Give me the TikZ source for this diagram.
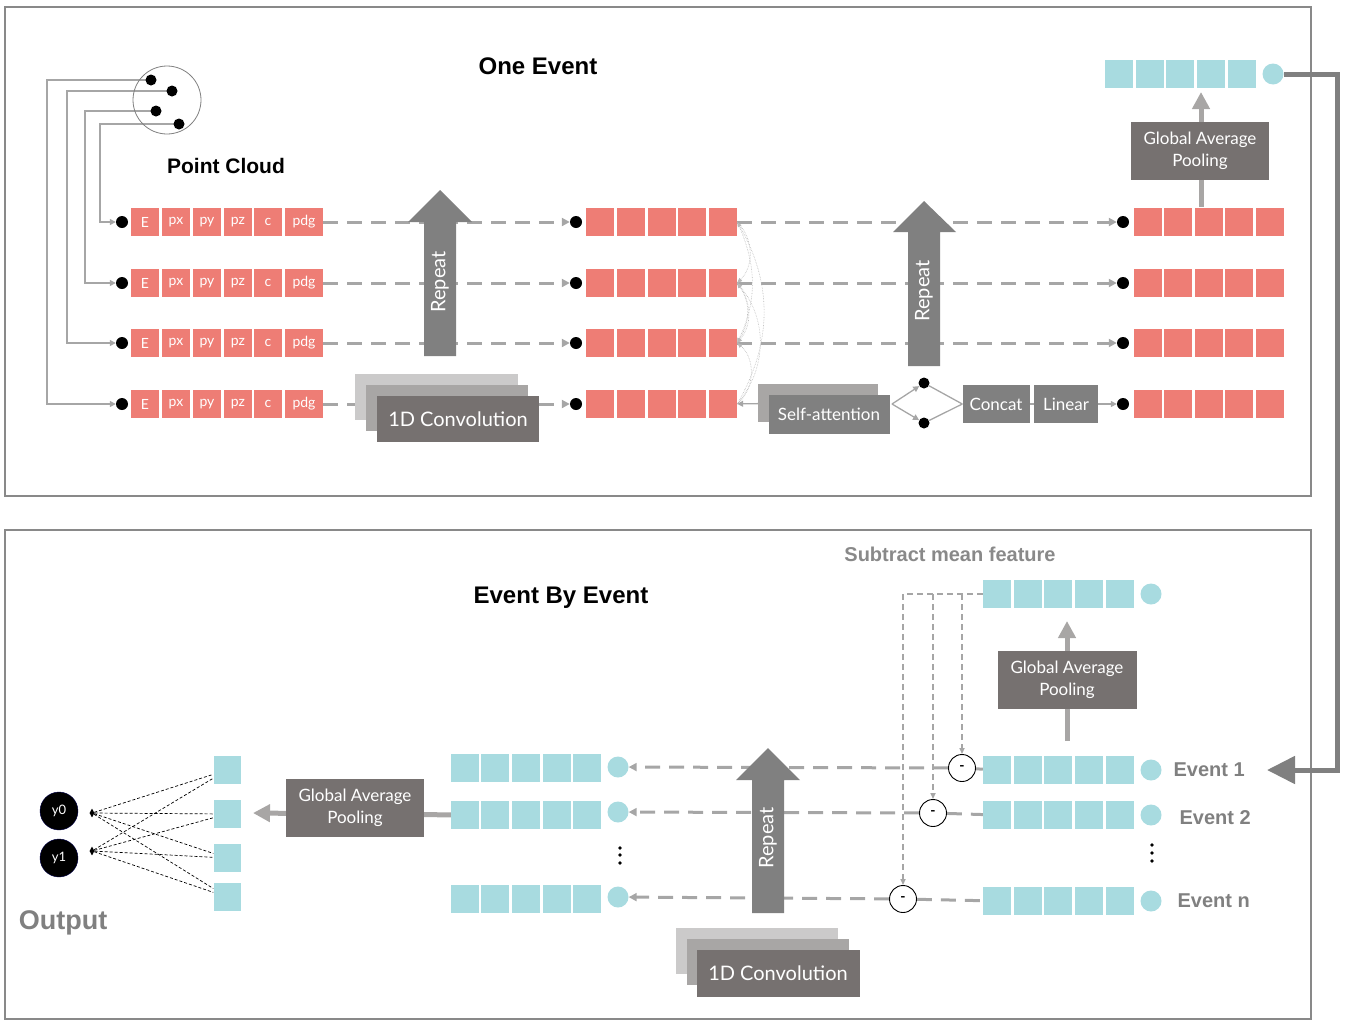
\documentclass[tikz,border=0pt]{standalone}
\usepackage{fontspec}
\setmainfont{Lato}
\newfontfamily\headfont{Liberation Sans}
\usetikzlibrary{arrows.meta,shapes.geometric}
\definecolor{cellred}{RGB}{238,125,117}
\definecolor{cellblue}{RGB}{168,219,224}
\definecolor{boxdark}{RGB}{118,113,112}
\definecolor{boxgrey}{RGB}{128,128,128}
\definecolor{boxmid}{RGB}{168,166,165}
\definecolor{boxlight}{RGB}{203,202,202}
\definecolor{linegrey}{RGB}{166,166,166}
\definecolor{framegrey}{RGB}{137,137,137}
\pgfdeclarelayer{edgelayer}
\pgfdeclarelayer{nodelayer}
\pgfsetlayers{edgelayer,nodelayer,main}
\tikzstyle{none}=[inner sep=0pt]
\tikzstyle{panel}=[draw=framegrey, line width=2pt]
\tikzstyle{pcircle}=[circle, draw=boxgrey, line width=0.8pt, minimum size=68pt, inner sep=0pt]
\tikzstyle{pcdot}=[circle, fill=black, minimum size=11pt, inner sep=0pt]
\tikzstyle{dot}=[circle, fill=black, minimum size=12pt, inner sep=0pt]
\tikzstyle{vdot}=[circle, fill=black, minimum size=3.6pt, inner sep=0pt]
\tikzstyle{redcell}=[fill=cellred, minimum width=28pt, minimum height=28pt, inner sep=0pt, text=white, font=\fontsize{14}{14}\selectfont]
\tikzstyle{widecell}=[redcell, minimum width=38pt]
\tikzstyle{bluecell}=[fill=cellblue, minimum width=28pt, minimum height=28pt, inner sep=0pt]
\tikzstyle{bluedot}=[circle, fill=cellblue, minimum size=21pt, inner sep=0pt]
\tikzstyle{darkbox}=[fill=boxdark, text=white, inner sep=0pt, align=center]
\tikzstyle{greybox}=[fill=boxgrey, text=white, inner sep=0pt, align=center]
\tikzstyle{midbox}=[fill=boxmid, inner sep=0pt]
\tikzstyle{lightbox}=[fill=boxlight, inner sep=0pt]
\tikzstyle{boxtext}=[font=\fontsize{17}{22}\selectfont]
\tikzstyle{heading}=[font=\headfont\bfseries\fontsize{24}{24}\selectfont]
\tikzstyle{eventlabel}=[text=boxgrey, anchor=west, font=\headfont\bfseries\fontsize{20}{20}\selectfont]
\tikzstyle{minus}=[circle, draw=black, fill=white, line width=0.9pt, minimum size=27pt, inner sep=0pt, font=\bfseries\fontsize{14}{14}\selectfont]
\tikzstyle{outnode}=[circle, fill=black, draw=black!70!blue, minimum size=38pt, inner sep=0pt, text=white, font=\fontsize{13}{13}\selectfont]
\tikzstyle{fcjoint}=[diamond, fill=black, minimum width=5pt, minimum height=9pt, inner sep=0pt]
\tikzstyle{feed}=[draw=linegrey, line width=1.3pt, -{Triangle[length=6pt,width=6pt]}]
\tikzstyle{flow}=[draw=linegrey, line width=3pt, dash pattern=on 15pt off 9pt, -{Triangle[length=8pt,width=8pt]}]
\tikzstyle{rowline}=[draw=linegrey, line width=3pt, dash pattern=on 15pt off 9pt]
\tikzstyle{attn}=[draw=linegrey!80, line width=0.6pt, densely dotted, -{Triangle[length=5pt,width=4pt]}]
\tikzstyle{meanline}=[draw=linegrey, line width=1.5pt, dash pattern=on 6pt off 4pt, -{Triangle[length=6pt,width=5pt]}]
\tikzstyle{pool}=[draw=boxmid, line width=5pt, -{Triangle[length=17pt,width=17pt]}]
\tikzstyle{fcline}=[draw=black, line width=0.7pt, dash pattern=on 3pt off 2pt]

\begin{document}
\begin{tikzpicture}[x=1pt, y=-1pt]
	\useasboundingbox (0,0) rectangle (1346,1020);
	\begin{pgfonlayer}{nodelayer}
		% one event
		\node [style=heading] (115) at (538, 66) {One Event};
		\node [style=heading, font=\headfont\bfseries\fontsize{21}{21}\selectfont] (116) at (226, 166) {Point Cloud};
		\node [style=pcircle] (0) at (167, 100) {};
		\node [style=pcdot] (1) at (151, 80) {};
		\node [style=pcdot] (2) at (172, 91) {};
		\node [style=pcdot] (3) at (156, 111) {};
		\node [style=pcdot] (4) at (179, 124) {};
		\node [style=none] (5) at (47, 80) {};
		\node [style=none] (6) at (47, 404) {};
		\node [style=none] (7) at (67, 91) {};
		\node [style=none] (8) at (67, 343) {};
		\node [style=none] (9) at (85, 111) {};
		\node [style=none] (10) at (85, 283) {};
		\node [style=none] (11) at (100, 124) {};
		\node [style=none] (12) at (100, 222) {};
		\node [style=dot] (13) at (122, 222) {};
		\node [style=dot] (14) at (122, 283) {};
		\node [style=dot] (15) at (122, 343) {};
		\node [style=dot] (16) at (122, 404) {};
		\node [style=redcell] (20) at (145, 222) {E};
		\node [style=redcell] (21) at (176, 222) {px};
		\node [style=redcell] (22) at (207, 222) {py};
		\node [style=redcell] (23) at (238, 222) {pz};
		\node [style=redcell] (24) at (268, 222) {c};
		\node [style=widecell] (25) at (304, 222) {pdg};
		\node [style=redcell] (26) at (145, 283) {E};
		\node [style=redcell] (27) at (176, 283) {px};
		\node [style=redcell] (28) at (207, 283) {py};
		\node [style=redcell] (29) at (238, 283) {pz};
		\node [style=redcell] (30) at (268, 283) {c};
		\node [style=widecell] (31) at (304, 283) {pdg};
		\node [style=redcell] (32) at (145, 343) {E};
		\node [style=redcell] (33) at (176, 343) {px};
		\node [style=redcell] (34) at (207, 343) {py};
		\node [style=redcell] (35) at (238, 343) {pz};
		\node [style=redcell] (36) at (268, 343) {c};
		\node [style=widecell] (37) at (304, 343) {pdg};
		\node [style=redcell] (38) at (145, 404) {E};
		\node [style=redcell] (39) at (176, 404) {px};
		\node [style=redcell] (40) at (207, 404) {py};
		\node [style=redcell] (41) at (238, 404) {pz};
		\node [style=redcell] (42) at (268, 404) {c};
		\node [style=widecell] (43) at (304, 404) {pdg};
		\node [style=dot] (44) at (576, 222) {};
		\node [style=dot] (45) at (576, 283) {};
		\node [style=dot] (46) at (576, 343) {};
		\node [style=dot] (47) at (576, 404) {};
		\node [style=redcell] (50) at (600, 222) {};
		\node [style=redcell] (51) at (631, 222) {};
		\node [style=redcell] (52) at (662, 222) {};
		\node [style=redcell] (53) at (692, 222) {};
		\node [style=redcell] (54) at (723, 222) {};
		\node [style=redcell] (55) at (600, 283) {};
		\node [style=redcell] (56) at (631, 283) {};
		\node [style=redcell] (57) at (662, 283) {};
		\node [style=redcell] (58) at (692, 283) {};
		\node [style=redcell] (59) at (723, 283) {};
		\node [style=redcell] (60) at (600, 343) {};
		\node [style=redcell] (61) at (631, 343) {};
		\node [style=redcell] (62) at (662, 343) {};
		\node [style=redcell] (63) at (692, 343) {};
		\node [style=redcell] (64) at (723, 343) {};
		\node [style=redcell] (65) at (600, 404) {};
		\node [style=redcell] (66) at (631, 404) {};
		\node [style=redcell] (67) at (662, 404) {};
		\node [style=redcell] (68) at (692, 404) {};
		\node [style=redcell] (69) at (723, 404) {};
		\node [style=dot] (70) at (1123, 222) {};
		\node [style=dot] (71) at (1123, 283) {};
		\node [style=dot] (72) at (1123, 343) {};
		\node [style=dot] (73) at (1123, 404) {};
		\node [style=redcell] (75) at (1148, 222) {};
		\node [style=redcell] (76) at (1178, 222) {};
		\node [style=redcell] (77) at (1209, 222) {};
		\node [style=redcell] (78) at (1239, 222) {};
		\node [style=redcell] (79) at (1270, 222) {};
		\node [style=redcell] (80) at (1148, 283) {};
		\node [style=redcell] (81) at (1178, 283) {};
		\node [style=redcell] (82) at (1209, 283) {};
		\node [style=redcell] (83) at (1239, 283) {};
		\node [style=redcell] (84) at (1270, 283) {};
		\node [style=redcell] (85) at (1148, 343) {};
		\node [style=redcell] (86) at (1178, 343) {};
		\node [style=redcell] (87) at (1209, 343) {};
		\node [style=redcell] (88) at (1239, 343) {};
		\node [style=redcell] (89) at (1270, 343) {};
		\node [style=redcell] (90) at (1148, 404) {};
		\node [style=redcell] (91) at (1178, 404) {};
		\node [style=redcell] (92) at (1209, 404) {};
		\node [style=redcell] (93) at (1239, 404) {};
		\node [style=redcell] (94) at (1270, 404) {};
		\node [style=lightbox, minimum width=163pt, minimum height=46pt] (95) at (436, 397) {};
		\node [style=midbox, minimum width=162pt, minimum height=46pt] (96) at (447, 408) {};
		\node [style=darkbox, minimum width=162pt, minimum height=46pt, font=\fontsize{20}{20}\selectfont] (97) at (458, 419) {1D Convolution};
		\node [style=midbox, minimum width=120pt, minimum height=38pt] (98) at (818, 403) {};
		\node [style=greybox, style=boxtext, minimum width=121pt, minimum height=39pt] (99) at (829, 414) {Self-attention};
		\node [style=none] (215) at (892, 404) {};
		\node [style=dot, minimum size=11pt] (100) at (924, 383) {};
		\node [style=dot, minimum size=11pt] (101) at (924, 423) {};
		\node [style=greybox, style=boxtext, minimum width=67pt, minimum height=38pt] (102) at (996, 404) {Concat};
		\node [style=greybox, style=boxtext, minimum width=64pt, minimum height=38pt] (103) at (1066, 404) {Linear};
		\node [style=darkbox, style=boxtext, minimum width=138pt, minimum height=58pt] (104) at (1200, 151) {Global Average\\Pooling};
		\node [style=none] (211) at (1201, 207) {};
		\node [style=none] (212) at (1201, 92) {};
		\node [style=bluecell] (105) at (1119, 74) {};
		\node [style=bluecell] (106) at (1150, 74) {};
		\node [style=bluecell] (107) at (1180, 74) {};
		\node [style=bluecell] (108) at (1211, 74) {};
		\node [style=bluecell] (109) at (1242, 74) {};
		\node [style=bluedot] (110) at (1273, 74) {};
		\node [style=none] (111) at (1337, 74) {};
		\node [style=none] (112) at (1337, 770) {};
		\node [style=none] (216) at (1267, 770) {};
		% event by event
		\node [style=heading] (117) at (561, 598) {Event By Event};
		\node [style=heading, text=framegrey, font=\headfont\bfseries\fontsize{20}{20}\selectfont] (118) at (950, 554) {Subtract mean feature};
		\node [style=bluecell] (120) at (997, 594) {};
		\node [style=bluecell] (121) at (1028, 594) {};
		\node [style=bluecell] (122) at (1058, 594) {};
		\node [style=bluecell] (123) at (1089, 594) {};
		\node [style=bluecell] (124) at (1120, 594) {};
		\node [style=bluedot] (125) at (1151, 594) {};
		\node [style=darkbox, style=boxtext, minimum width=139pt, minimum height=58pt] (126) at (1067, 680) {Global Average\\Pooling};
		\node [style=none] (213) at (1067, 741) {};
		\node [style=none] (214) at (1067, 621) {};
		\node [style=bluecell] (130) at (997, 770) {};
		\node [style=bluecell] (131) at (1028, 770) {};
		\node [style=bluecell] (132) at (1058, 770) {};
		\node [style=bluecell] (133) at (1089, 770) {};
		\node [style=bluecell] (134) at (1120, 770) {};
		\node [style=bluedot] (135) at (1151, 770) {};
		\node [style=eventlabel] (136) at (1170, 770) {Event 1};
		\node [style=bluecell] (140) at (997, 815) {};
		\node [style=bluecell] (141) at (1028, 815) {};
		\node [style=bluecell] (142) at (1058, 815) {};
		\node [style=bluecell] (143) at (1089, 815) {};
		\node [style=bluecell] (144) at (1120, 815) {};
		\node [style=bluedot] (145) at (1151, 815) {};
		\node [style=eventlabel] (146) at (1176, 818) {Event 2};
		\node [style=bluecell] (150) at (997, 901) {};
		\node [style=bluecell] (151) at (1028, 901) {};
		\node [style=bluecell] (152) at (1058, 901) {};
		\node [style=bluecell] (153) at (1089, 901) {};
		\node [style=bluecell] (154) at (1120, 901) {};
		\node [style=bluedot] (155) at (1151, 901) {};
		\node [style=eventlabel] (156) at (1174, 901) {Event n};
		\node [style=vdot] (157) at (1152, 845) {};
		\node [style=vdot] (158) at (1152, 853) {};
		\node [style=vdot] (159) at (1152, 861) {};
		\node [style=vdot] (217) at (620, 848) {};
		\node [style=vdot] (218) at (620, 855) {};
		\node [style=vdot] (219) at (620, 863) {};
		\node [style=minus] (160) at (962, 768) {-};
		\node [style=minus] (161) at (933, 813) {-};
		\node [style=minus] (162) at (903, 899) {-};
		\node [style=none] (163) at (903, 594) {};
		\node [style=none] (164) at (933, 594) {};
		\node [style=none] (165) at (962, 594) {};
		\node [style=bluecell] (170) at (465, 768) {};
		\node [style=bluecell] (171) at (495, 768) {};
		\node [style=bluecell] (172) at (526, 768) {};
		\node [style=bluecell] (173) at (557, 768) {};
		\node [style=bluecell] (174) at (587, 768) {};
		\node [style=bluedot] (175) at (618, 767) {};
		\node [style=bluecell] (180) at (465, 815) {};
		\node [style=bluecell] (181) at (495, 815) {};
		\node [style=bluecell] (182) at (526, 815) {};
		\node [style=bluecell] (183) at (557, 815) {};
		\node [style=bluecell] (184) at (587, 815) {};
		\node [style=bluedot] (185) at (618, 812) {};
		\node [style=bluecell] (190) at (465, 899) {};
		\node [style=bluecell] (191) at (495, 899) {};
		\node [style=bluecell] (192) at (526, 899) {};
		\node [style=bluecell] (193) at (557, 899) {};
		\node [style=bluecell] (194) at (587, 899) {};
		\node [style=bluedot] (195) at (618, 897) {};
		\node [style=lightbox, minimum width=162pt, minimum height=46pt] (197) at (757, 951) {};
		\node [style=midbox, minimum width=162pt, minimum height=46pt] (198) at (768, 962) {};
		\node [style=darkbox, minimum width=163pt, minimum height=47pt, font=\fontsize{20}{20}\selectfont] (199) at (778, 973) {1D Convolution};
		\node [style=darkbox, style=boxtext, minimum width=138pt, minimum height=58pt] (200) at (355, 808) {Global Average\\Pooling};
		\node [style=none] (210) at (253, 813) {};
		\node [style=bluecell, minimum width=27pt] (201) at (227, 770) {};
		\node [style=bluecell, minimum width=27pt] (202) at (227, 814) {};
		\node [style=bluecell, minimum width=27pt] (203) at (227, 858) {};
		\node [style=bluecell, minimum width=27pt] (204) at (227, 897) {};
		\node [style=outnode] (205) at (59, 811) {y0};
		\node [style=outnode] (206) at (59, 858) {y1};
		\node [style=fcjoint] (207) at (92, 813) {};
		\node [style=fcjoint] (208) at (92, 851) {};
		\node [style=none, text=boxgrey, font=\headfont\bfseries\fontsize{27}{27}\selectfont] (209) at (63, 923) {Output};
	\end{pgfonlayer}
	\begin{pgfonlayer}{edgelayer}
		\draw [style=panel] (5, 7) rectangle (1311, 496);
		\draw [style=panel] (5, 530) rectangle (1311, 1019);
		\draw [style=feed] (1.center) to (5.center) to (6.center) to (16);
		\draw [style=feed] (2.center) to (7.center) to (8.center) to (15);
		\draw [style=feed] (3.center) to (9.center) to (10.center) to (14);
		\draw [style=feed] (4.center) to (11.center) to (12.center) to (13);
		\draw [style=flow] (25) to (44);
		\draw [style=flow] (31) to (45);
		\draw [style=flow] (37) to (46);
		\draw [style=flow] (43) to (47);
		\draw [style=flow] (54) to (70);
		\draw [style=flow] (59) to (71);
		\draw [style=flow] (64) to (72);
		\draw [style=feed] (98) to (69);
		\draw [style=attn] (69.east) to [bend right=30] (54.east);
		\draw [style=attn] (69.east) to [bend right=40] (59.east);
		\draw [style=attn] (69.east) to [bend right=50] (64.east);
		\draw [style=attn] (54.east) to [bend left=25] (64.east);
		\draw [style=attn] (54.east) to [bend left=45] (59.east);
		\draw [style=attn] (59.east) to [bend left=40] (64.east);
		\draw [style=attn] (64.east) to [bend right=35] (59.east);
		\draw [style=feed] (215.center) to (100);
		\draw [style=feed] (215.center) to (101);
		\draw [draw=linegrey, line width=1.3pt] (100) to (102.west);
		\draw [draw=linegrey, line width=1.3pt] (101) to (102.west);
		\draw [draw=linegrey, line width=1.3pt] (102) to (103);
		\draw [style=feed] (103) to (73);
		\draw [style=pool] (211.center) to (212.center);
		\draw [draw=boxgrey, line width=5pt, -{Triangle[length=28pt,width=27pt]}] (110) to (111.center) to (112.center) to (216.center);
		\draw [style=meanline] (120) to (163.center) to (162);
		\draw [style=meanline] (164.center) to (161);
		\draw [style=meanline] (165.center) to (160);
		\draw [style=flow] (160) to (175);
		\draw [style=flow] (161) to (185);
		\draw [style=flow] (162) to (195);
		\draw [draw=linegrey, line width=3pt] (160) to (130);
		\draw [style=rowline] (161) to (140);
		\draw [style=rowline] (162) to (150);
		\draw [style=pool] (180) to (210.center);
		\draw [style=pool] (213.center) to (214.center);
		\draw [style=fcline] (207) to (201);
		\draw [style=fcline] (207) to (202);
		\draw [style=fcline] (207) to (203);
		\draw [style=fcline] (207) to (204);
		\draw [style=fcline] (208) to (201);
		\draw [style=fcline] (208) to (202);
		\draw [style=fcline] (208) to (203);
		\draw [style=fcline] (208) to (204);
	\end{pgfonlayer}
	% repeat arrows
	\fill [boxgrey] (424, 356) -- (424, 222) -- (408, 222) -- (440, 190) -- (472, 222) -- (456, 222) -- (456, 356) -- cycle;
	\fill [boxgrey] (908, 366) -- (908, 232) -- (893, 232) -- (924, 201) -- (956, 232) -- (940, 232) -- (940, 366) -- cycle;
	\fill [boxgrey] (752, 913) -- (752, 780) -- (736, 780) -- (768, 748) -- (800, 780) -- (784, 780) -- (784, 913) -- cycle;
	\node [style=none, rotate=90, text=white, font=\fontsize{20}{20}\selectfont] (113) at (440, 282) {Repeat};
	\node [style=none, rotate=90, text=white, font=\fontsize{20}{20}\selectfont] (114) at (924, 291) {Repeat};
	\node [style=none, rotate=90, text=white, font=\fontsize{20}{20}\selectfont] (196) at (768, 838) {Repeat};
\end{tikzpicture}
\end{document}
